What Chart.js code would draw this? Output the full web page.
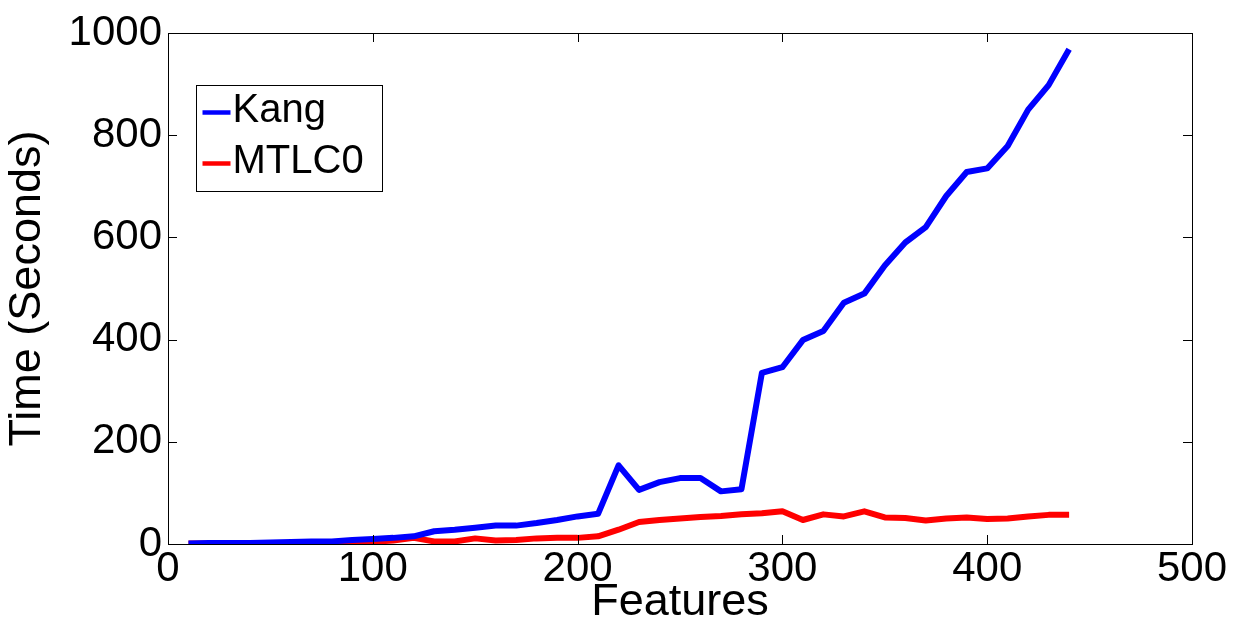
<!DOCTYPE html>
<html>
<head>
<meta charset="utf-8">
<script src="https://cdn.jsdelivr.net/npm/chart.js@4"></script>
<style>
  body { margin: 0; background: #fff; }
  canvas { display: block; }
</style>
</head>
<body>
<canvas id="myChart" width="1233" height="621"></canvas>
<script>
// datos
const features = [10, 20, 30, 40, 50, 60, 70, 80, 90, 100,
                  110, 120, 130, 140, 150, 160, 170, 180, 190, 200,
                  210, 220, 230, 240, 250, 260, 270, 280, 290, 300,
                  310, 320, 330, 340, 350, 360, 370, 380, 390, 400,
                  410, 420, 430, 440];
const kang = [1, 2, 2, 2, 3, 4, 5, 5, 8, 10,
              12, 15, 25, 28, 32, 36, 36, 41, 47, 54,
              59, 154, 106, 121, 129, 129, 103, 107, 335, 346,
              399, 417, 472, 490, 545, 590, 620, 681, 728, 735,
              779, 850, 898, 968];
const mtlc0 = [1, 1, 1, 1, 1, 2, 2, 2, 3, 4,
               7, 12, 5, 5, 11, 7, 8, 11, 12, 12,
               15, 28, 43, 47, 50, 53, 55, 58, 60, 64,
               47, 58, 54, 64, 52, 51, 46, 50, 52, 49,
               50, 54, 57, 57];
const xTicks = [0, 100, 200, 300, 400, 500];
const yTicks = [0, 200, 400, 600, 800, 1000];

const FONT = 'Liberation Sans, Arial, Helvetica, sans-serif';

// marco, ticks hacia dentro y leyenda tipo Matlab
const matlabFrame = {
  id: 'matlabFrame',
  afterDatasetsDraw(chart) {
    const ctx = chart.ctx;
    const a = chart.chartArea;
    const xs = chart.scales.x, ys = chart.scales.y;
    const tl = 9;
    ctx.save();
    ctx.strokeStyle = '#000';
    ctx.lineWidth = 1;
    ctx.strokeRect(Math.round(a.left) + 0.5, Math.round(a.top) + 0.5,
                   Math.round(a.right - a.left), Math.round(a.bottom - a.top));
    ctx.beginPath();
    xTicks.forEach(v => {
      const px = Math.round(xs.getPixelForValue(v)) + 0.5;
      ctx.moveTo(px, a.bottom); ctx.lineTo(px, a.bottom - tl);
      ctx.moveTo(px, a.top); ctx.lineTo(px, a.top + tl);
    });
    yTicks.forEach(v => {
      const py = Math.round(ys.getPixelForValue(v)) + 0.5;
      ctx.moveTo(a.left, py); ctx.lineTo(a.left + tl, py);
      ctx.moveTo(a.right, py); ctx.lineTo(a.right - tl, py);
    });
    ctx.stroke();

    // leyenda
    const bx = Math.round(a.left) + 28.5, by = Math.round(a.top) + 52.5;
    const bw = 186, bh = 106;
    ctx.fillStyle = '#fff';
    ctx.fillRect(bx, by, bw, bh);
    ctx.strokeRect(bx, by, bw, bh);
    ctx.font = '40px ' + FONT;
    ctx.textBaseline = 'alphabetic';
    chart.data.datasets.forEach((ds, i) => {
      const ly = by + 27 + i * 51;
      ctx.strokeStyle = ds.borderColor;
      ctx.lineWidth = 4.5;
      ctx.beginPath();
      ctx.moveTo(bx + 6, ly); ctx.lineTo(bx + 34, ly);
      ctx.stroke();
      ctx.fillStyle = '#000';
      ctx.fillText(ds.label, bx + 36, ly + 9);
    });
    ctx.restore();
  }
};

const data = {
  datasets: [{
    label: 'Kang',
    data: features.map((f, i) => ({ x: f, y: kang[i] })),
    borderColor: '#0000ff',
    borderWidth: 6,
    pointRadius: 0,
    tension: 0,
    borderJoinStyle: 'round'
  }, {
    label: 'MTLC0',
    data: features.map((f, i) => ({ x: f, y: mtlc0[i] })),
    borderColor: '#ff0000',
    borderWidth: 6,
    pointRadius: 0,
    tension: 0,
    borderJoinStyle: 'round'
  }]
};

const config = {
  type: 'line',
  data: data,
  options: {
    responsive: false,
    animation: false,
    layout: { padding: { top: 33, right: 41, left: 0, bottom: 0 } },
    plugins: { legend: { display: false }, tooltip: { enabled: false } },
    scales: {
      x: {
        type: 'linear',
        min: 0, max: 500,
        afterBuildTicks: s => { s.ticks = xTicks.map(v => ({ value: v })); },
        afterFit: s => { s.height = 77; },
        ticks: { color: '#000', font: { family: FONT, size: 42 }, padding: 0, maxRotation: 0,
                 callback: v => String(v) },
        grid: { display: false, drawTicks: false },
        border: { display: false },
        title: {
          display: true, text: 'Features', color: '#000',
          font: { family: FONT, size: 45, lineHeight: 0.8 },
          padding: { top: 0, bottom: 0 }
        }
      },
      y: {
        min: 0, max: 1000,
        afterBuildTicks: s => { s.ticks = yTicks.map(v => ({ value: v })); },
        afterFit: s => { s.width = 168; },
        ticks: { color: '#000', font: { family: FONT, size: 42 }, padding: 6,
                 callback: v => String(v) },
        grid: { display: false, drawTicks: false },
        border: { display: false },
        title: {
          display: true, text: 'Time (Seconds)', color: '#000',
          font: { family: FONT, size: 45, lineHeight: 0.8 },
          padding: { top: 10, bottom: 0 }
        }
      }
    }
  },
  plugins: [matlabFrame]
};

let myChart = new Chart(document.getElementById('myChart'), config);
</script>
</body>
</html>
